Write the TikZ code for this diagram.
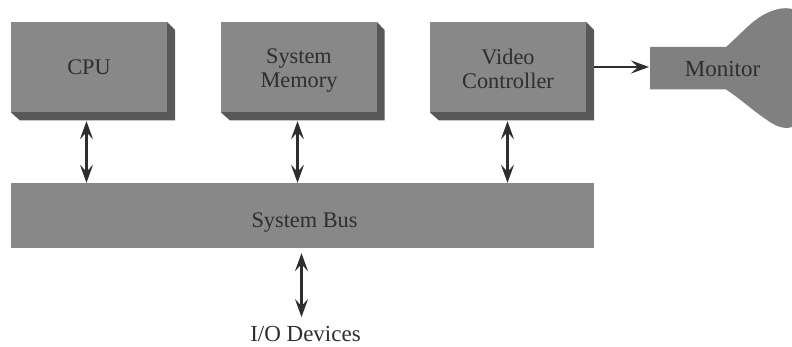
\documentclass[tikz,border=0pt]{standalone}
\usepackage{fontspec}
\setmainfont{Liberation Serif}
\usetikzlibrary{arrows.meta}
\definecolor{boxgray}{HTML}{888888}
\definecolor{sidegray}{HTML}{585858}
\definecolor{tubegray}{HTML}{808080}
\definecolor{inkgray}{HTML}{2E2E2E}
\tikzset{
  unitbox/.style={fill=boxgray,text=inkgray,inner sep=0pt,align=center,minimum width=156pt,minimum height=90.5pt,font=\fontsize{22.3}{24}\selectfont},
  plainlabel/.style={text=inkgray,inner sep=0pt,font=\fontsize{23}{24}\selectfont},
  sidebox/.style={fill=sidegray},
  link/.style={draw=inkgray,line width=2.4pt,{Stealth[length=18pt,width=13pt,inset=7pt]}-{Stealth[length=18pt,width=13pt,inset=7pt]}},
  feed/.style={draw=inkgray,line width=2.4pt,-{Stealth[length=18pt,width=13pt,inset=7pt]}}
}
\begin{document}
\begin{tikzpicture}[x=1pt,y=1pt,yscale=-1,xscale=1]
\useasboundingbox (0,0) rectangle (792,347);
\fill [sidebox] (167,22) -- (175,30) -- (175,120.5) -- (20,120.5) -- (11,112.5) -- cycle;
\fill [sidebox] (377,22) -- (384.5,30) -- (384.5,120.5) -- (230,120.5) -- (221,112.5) -- cycle;
\fill [sidebox] (586,22) -- (594,30) -- (594,120.5) -- (439,120.5) -- (430,112.5) -- cycle;
\fill [tubegray] (650,47) -- (726,47) .. controls (742,33) and (752,20) .. (767,13) .. controls (776,9) and (784,7) .. (792,9) -- (792,127) .. controls (783,130) and (774,125) .. (767,120) .. controls (752,110) and (742,100) .. (726,89.5) -- (650,89.5) -- cycle;
\node [unitbox] (cpu) at (89,67.25) {CPU};
\node [unitbox] (memory) at (299,67.25) {\rule{0pt}{22pt}System\\Memory};
\node [unitbox] (video) at (508,67.25) {\rule{0pt}{18pt}Video\\Controller};
\node [unitbox,minimum width=583pt,minimum height=65pt] (bus) at (302.5,215.5) {\rule{0pt}{28pt}\hspace*{4pt}System Bus};
\node [plainlabel] (monitor) at (722.5,69.5) {Monitor};
\node [plainlabel] (devices) at (305.5,334) {I/O Devices};
\coordinate (neck) at (649,67);
\draw [link] ([xshift=-2.5pt,yshift=8.5pt]cpu.south) -- ([xshift=-2.5pt]cpu.south |- bus.north);
\draw [link] ([xshift=-1.5pt,yshift=8.5pt]memory.south) -- ([xshift=-1.5pt]memory.south |- bus.north);
\draw [link] ([xshift=-0.5pt,yshift=8.5pt]video.south) -- ([xshift=-0.5pt]video.south |- bus.north);
\draw [link] ([xshift=-1pt,yshift=5pt]bus.south) -- ([xshift=-4pt,yshift=-9pt]devices.north);
\draw [feed] ([xshift=8pt]video.east |- neck) -- (neck);
\end{tikzpicture}
\end{document}
